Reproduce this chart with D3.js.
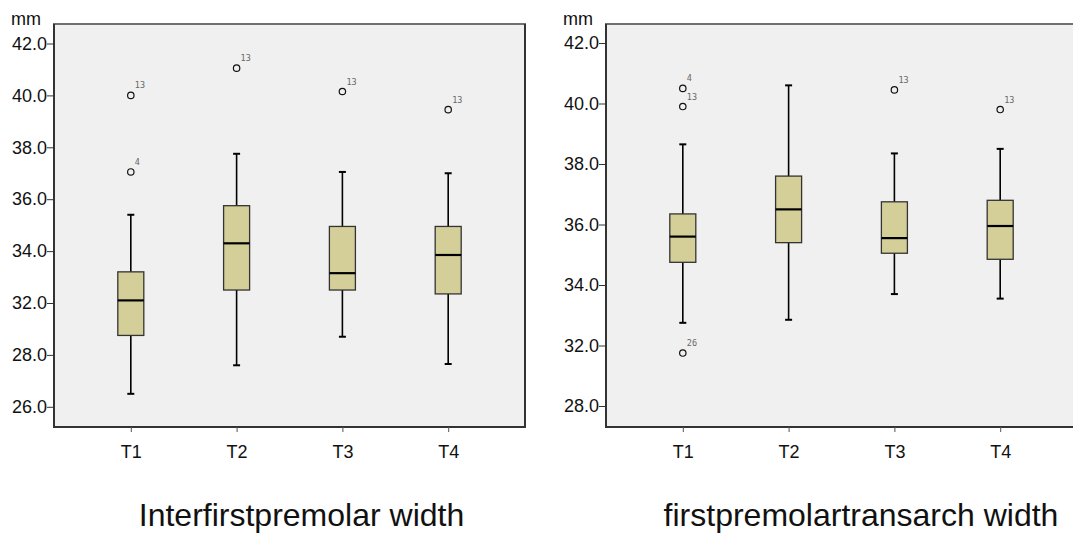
<!DOCTYPE html>
<html>
<head>
<meta charset="utf-8">
<script src="https://cdn.jsdelivr.net/npm/d3@7"></script>
<style>
  body { margin: 0; background: white; }
  svg { display: block; font-family: "Liberation Sans", Arial, sans-serif; }
</style>
</head>
<body>
<div id="chart"></div>
<script>
const width = 1073;
const height = 534;

const categories = ["T1", "T2", "T3", "T4"];

// Interfirstpremolar width (tick labels as printed on the axis)
const interTicks = [42, 40, 38, 36, 34, 32, 28, 26];
const interLow = [26.5, 27.6, 29.4, 27.65];
const interQ1 = [29.5, 32.5, 32.5, 32.35];
const interMedian = [32.1, 34.3, 33.15, 33.85];
const interQ3 = [33.2, 35.75, 34.95, 34.95];
const interHigh = [35.4, 37.75, 37.05, 37.0];
const interOutliers = [
  {cat: "T1", value: 40.0, id: 13},
  {cat: "T1", value: 37.05, id: 4},
  {cat: "T2", value: 41.05, id: 13},
  {cat: "T3", value: 40.15, id: 13},
  {cat: "T4", value: 39.45, id: 13}
];

// firstpremolartransarch width
const transTicks = [42, 40, 38, 36, 34, 32, 28];
const transLow = [32.75, 32.85, 33.7, 33.55];
const transQ1 = [34.75, 35.4, 35.05, 34.85];
const transMedian = [35.6, 36.5, 35.55, 35.95];
const transQ3 = [36.35, 37.6, 36.75, 36.8];
const transHigh = [38.65, 40.6, 38.35, 38.5];
const transOutliers = [
  {cat: "T1", value: 40.5, id: 4},
  {cat: "T1", value: 39.9, id: 13},
  {cat: "T1", value: 31.5, id: 26},
  {cat: "T3", value: 40.45, id: 13},
  {cat: "T4", value: 39.8, id: 13}
];

const svg = d3.select("#chart")
  .append("svg")
  .attr("width", width)
  .attr("height", height);

function drawPanel(opts) {
  const g = svg.append("g");
  const left = opts.left, top = 24, w = 471, h = 403;

  // tick labels are evenly spaced on the axis even where the values are not
  const y = d3.scaleLinear()
    .domain(opts.ticks)
    .range(opts.ticks.map((d, i) => opts.tickTop + i * opts.tickStep));

  const x = d3.scalePoint()
    .domain(categories)
    .range([left, left + w])
    .padding(0.726);

  g.append("rect")
    .attr("x", left).attr("y", top)
    .attr("width", w).attr("height", h)
    .attr("fill", "#f0f0f0")
    .attr("stroke", "#707070")
    .attr("stroke-width", 2);
  g.append("path")
    .attr("d", `M${left},${top}V${top + h}H${left + w}V${top}`)
    .attr("fill", "none")
    .attr("stroke", "#333")
    .attr("stroke-width", 2);

  const yAxis = g.append("g")
    .attr("transform", `translate(${left},0)`)
    .call(d3.axisLeft(y).tickValues(opts.ticks).tickFormat(d3.format(".1f")).tickSize(7).tickPadding(0));
  yAxis.select(".domain").remove();
  yAxis.selectAll("line").attr("stroke", "#333");
  yAxis.selectAll("text").attr("font-size", 18).attr("fill", "#111").attr("font-family", "Liberation Sans, Arial");

  const xAxis = g.append("g")
    .attr("transform", `translate(0,${top + h})`)
    .call(d3.axisBottom(x).tickSize(5).tickPadding(13));
  xAxis.select(".domain").remove();
  xAxis.selectAll("line").attr("stroke", "#555");
  xAxis.selectAll("text").attr("font-size", 18).attr("fill", "#111").attr("font-family", "Liberation Sans, Arial");

  g.append("text")
    .attr("x", left - 43).attr("y", 25)
    .attr("font-size", 18)
    .attr("fill", "#111")
    .text("mm");

  const boxes = categories.map((c, i) => ({
    cat: c, low: opts.low[i], q1: opts.q1[i], med: opts.median[i], q3: opts.q3[i], high: opts.high[i]
  }));
  const bw = 26, cap = 3.5;

  const b = g.selectAll("g.box").data(boxes).join("g").attr("class", "box");
  b.append("line")
    .attr("x1", d => x(d.cat)).attr("x2", d => x(d.cat))
    .attr("y1", d => y(d.high)).attr("y2", d => y(d.low))
    .attr("stroke", "#000").attr("stroke-width", 1.6);
  b.append("line")
    .attr("x1", d => x(d.cat) - cap).attr("x2", d => x(d.cat) + cap)
    .attr("y1", d => y(d.high)).attr("y2", d => y(d.high))
    .attr("stroke", "#000").attr("stroke-width", 2);
  b.append("line")
    .attr("x1", d => x(d.cat) - cap).attr("x2", d => x(d.cat) + cap)
    .attr("y1", d => y(d.low)).attr("y2", d => y(d.low))
    .attr("stroke", "#000").attr("stroke-width", 2);
  b.append("rect")
    .attr("x", d => x(d.cat) - bw / 2)
    .attr("y", d => y(d.q3))
    .attr("width", bw)
    .attr("height", d => y(d.q1) - y(d.q3))
    .attr("fill", "#d4cf99")
    .attr("stroke", "#333")
    .attr("stroke-width", 1.3);
  b.append("line")
    .attr("x1", d => x(d.cat) - bw / 2).attr("x2", d => x(d.cat) + bw / 2)
    .attr("y1", d => y(d.med)).attr("y2", d => y(d.med))
    .attr("stroke", "#000").attr("stroke-width", 2.2);

  const o = g.selectAll("g.out").data(opts.outliers).join("g").attr("class", "out");
  o.append("circle")
    .attr("cx", d => x(d.cat)).attr("cy", d => y(d.value))
    .attr("r", 3.2)
    .attr("fill", "none")
    .attr("stroke", "#111")
    .attr("stroke-width", 1.2);
  o.append("text")
    .attr("x", d => x(d.cat) + 4).attr("y", d => y(d.value) - 7)
    .attr("font-size", 8.5)
    .attr("font-family", "DejaVu Sans Mono, monospace")
    .attr("fill", "#666")
    .text(d => d.id);

  svg.append("text")
    .attr("x", opts.titleX).attr("y", 526)
    .attr("text-anchor", "middle")
    .attr("font-size", 32)
    .attr("fill", "#111")
    .text(opts.title);
}

drawPanel({
  left: 54, ticks: interTicks, tickTop: 43.5, tickStep: 51.9,
  low: interLow, q1: interQ1, median: interMedian, q3: interQ3, high: interHigh,
  outliers: interOutliers, title: "Interfirstpremolar width", titleX: 301.5
});

drawPanel({
  left: 606, ticks: transTicks, tickTop: 43, tickStep: 60.5,
  low: transLow, q1: transQ1, median: transMedian, q3: transQ3, high: transHigh,
  outliers: transOutliers, title: "firstpremolartransarch width", titleX: 861
});
</script>
</body>
</html>
